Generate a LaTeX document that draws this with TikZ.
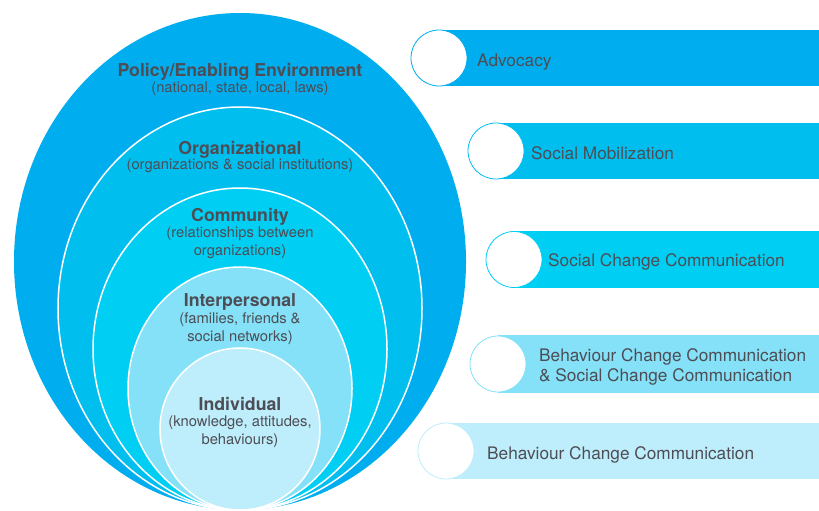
\documentclass[tikz,border=0pt]{standalone}
\usepackage{fontspec}
\setmainfont{TeX Gyre Heros}
\definecolor{lvlA}{HTML}{00AEEF}
\definecolor{lvlB}{HTML}{00BFEF}
\definecolor{lvlC}{HTML}{00CFF3}
\definecolor{lvlD}{HTML}{84E1F7}
\definecolor{lvlE}{HTML}{BEEDFB}
\definecolor{txt}{HTML}{4D4D55}
\tikzset{
  lvl/.style={align=center, text=txt, inner sep=1bp},
  lvltitle/.style={lvl, font=\fontsize{17.8}{20}\selectfont\bfseries},
  lvlnote/.style={lvl, font=\fontsize{14.8}{18.3}\selectfont},
  barlabel/.style={anchor=west, align=left, text=txt, inner sep=0pt, font=\fontsize{17.3}{20.7}\selectfont},
  bubble/.style={circle, fill=white, draw=#1, line width=.8bp, minimum size=56bp, inner sep=0pt},
  ring/.style={fill=#1, draw=white, line width=1.5bp}
}
\begin{document}
\begin{tikzpicture}[x=1bp,y=-1bp]
  \useasboundingbox (0,0) rectangle (819,511);
  % nested levels
  \fill[lvlA] (240,261.5) ellipse [x radius=226bp, y radius=248.5bp];
  \filldraw[ring=lvlB] (240,308.5) ellipse [x radius=182bp, y radius=201.5bp];
  \filldraw[ring=lvlC] (240,349) ellipse [x radius=147bp, y radius=161bp];
  \filldraw[ring=lvlD] (240,388.5) ellipse [x radius=112bp, y radius=121.5bp];
  \filldraw[ring=lvlE] (240,429) ellipse [x radius=80bp, y radius=81bp];
  \node[lvltitle] (policy) at (240,71.5) {Policy/Enabling Environment};
  \node[lvlnote] (policynote) at (240,89) {(national, state, local, laws)};
  \node[lvltitle] (org) at (240,150) {Organizational};
  \node[lvlnote] (orgnote) at (240,166) {(organizations \& social institutions)};
  \node[lvltitle] (community) at (240,217) {Community};
  \node[lvlnote] (communitynote) at (240,243) {(relationships between\\organizations)};
  \node[lvltitle] (inter) at (240,302) {Interpersonal};
  \node[lvlnote] (internote) at (240,328.7) {(families, friends \&\\social networks)};
  \node[lvltitle] (indiv) at (240,404) {Individual};
  \node[lvlnote] (indivnote) at (240,431.7) {(knowledge, attitudes,\\behaviours)};
  % approaches
  \fill[lvlA] (439,30) rectangle (819,86);
  \node[bubble=lvlA] (advocacy) at (439,58) {};
  \node[barlabel] (advocacylabel) at (477,62) {Advocacy};
  \fill[lvlB] (496,123) rectangle (819,179);
  \node[bubble=lvlB] (mobil) at (496,151) {};
  \node[barlabel] (mobillabel) at (531,153) {Social Mobilization};
  \fill[lvlC] (514,231) rectangle (819,288);
  \node[bubble=lvlC] (scc) at (514,259.5) {};
  \node[barlabel] (scclabel) at (548,262) {Social Change Communication};
  \fill[lvlD] (498,335) rectangle (819,393);
  \node[bubble=lvlD] (bccscc) at (498,364) {};
  \node[barlabel] (bccscclabel) at (539,367) {Behaviour Change Communication\\\& Social Change Communication};
  \fill[lvlE] (446,423) rectangle (819,479);
  \node[bubble=lvlE] (bcc) at (446,451) {};
  \node[barlabel] (bcclabel) at (487,454.5) {Behaviour Change Communication};
\end{tikzpicture}
\end{document}
